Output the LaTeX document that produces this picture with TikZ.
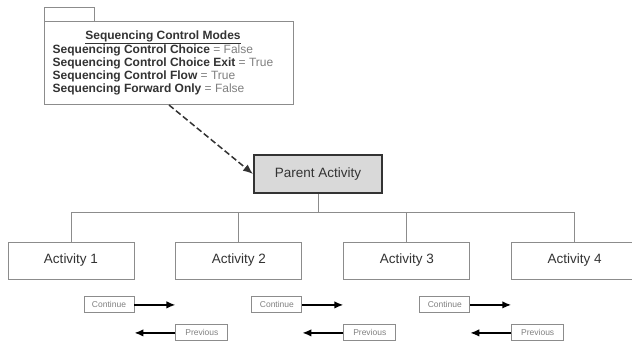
\documentclass[tikz,border=0pt]{standalone}
\usepackage{fontspec}
\setmainfont{Liberation Sans}
\usepackage{tikz}
\usetikzlibrary{arrows.meta,positioning}
\definecolor{seqgray}{HTML}{8C8C8C}
\definecolor{seqdark}{HTML}{333333}
\definecolor{seqfill}{HTML}{D9D9D9}
\definecolor{seqvalue}{HTML}{808080}
\tikzstyle{arrow} = [-{Latex[length=9pt,width=7.5pt]}, line width=1.6pt, black]
\newcommand{\seqval}[1]{\textcolor{seqvalue}{#1}}

\begin{document}
\begin{tikzpicture}[x=1pt, y=-1pt, node distance=41pt,
  actbox/.style={rectangle, draw=seqgray, line width=0.9pt, fill=white, minimum width=126pt, minimum height=37pt, font=\fontsize{13.5}{15}\selectfont, text=seqdark},
  parentbox/.style={rectangle, draw=seqdark, line width=2pt, fill=seqfill, minimum width=128pt, minimum height=38pt, font=\fontsize{13.5}{15}\selectfont, text=seqdark},
  notebox/.style={rectangle, draw=seqgray, line width=1pt, fill=white, minimum width=249pt, minimum height=83pt, inner sep=0pt, font=\fontsize{12}{13}\selectfont, text=seqdark},
  navbox/.style={rectangle, draw=seqgray, line width=0.9pt, minimum height=16pt, inner sep=0pt, font=\fontsize{8.5}{10}\selectfont, text=seqvalue},
  conn/.style={draw=seqgray, line width=0.9pt}]

\useasboundingbox (0,0) rectangle (632,341);

% sequencing control modes (note)
\node[notebox, anchor=north west] (modes) at (44,21) {\begin{tabular}{@{}l@{\hspace{12pt}}}
\multicolumn{1}{@{}c@{\hspace{12pt}}}{\underline{\textbf{Sequencing Control Modes}}}\\[1pt]
\textbf{Sequencing Control Choice} \seqval{= False}\\
\textbf{Sequencing Control Choice Exit} \seqval{= True}\\
\textbf{Sequencing Control Flow} \seqval{= True}\\
\textbf{Sequencing Forward Only} \seqval{= False}
\end{tabular}};
\draw[draw=seqgray, line width=1pt] (modes.north west) rectangle ++(50,-14);

% activity tree
\node[parentbox] (parent) at (318,174) {Parent Activity};
\node[actbox] (act1) at (71,260.5) {Activity 1};
\node[actbox, right=of act1] (act2) {Activity 2};
\node[actbox, right=of act2] (act3) {Activity 3};
\node[actbox, right=of act3] (act4) {Activity 4};

\draw[conn] (parent.south) -- ++(0,18) -| (act1.north);
\draw[conn] (parent.south) -- ++(0,18) -| (act2.north);
\draw[conn] (parent.south) -- ++(0,18) -| (act3.north);
\draw[conn] (parent.south) -- ++(0,18) -| (act4.north);

\draw[-{Latex[length=10pt,width=8pt]}, line width=1.5pt, seqdark, dash pattern=on 6pt off 3pt] (modes.south) -- (parent.west);

% navigation requests
\node[navbox, minimum width=50pt, below left=17pt and 0pt of act1.south east] (cont1) {Continue};
\node[navbox, minimum width=50pt, below left=17pt and 0pt of act2.south east] (cont2) {Continue};
\node[navbox, minimum width=50pt, below left=17pt and 0pt of act3.south east] (cont3) {Continue};
\node[navbox, minimum width=52pt, below right=45pt and 0pt of act2.south west] (prev1) {Previous};
\node[navbox, minimum width=52pt, below right=45pt and 0pt of act3.south west] (prev2) {Previous};
\node[navbox, minimum width=52pt, below right=45pt and 0pt of act4.south west] (prev3) {Previous};

\draw[arrow] (cont1) -- (cont1 -| act2.west);
\draw[arrow] (cont2) -- (cont2 -| act3.west);
\draw[arrow] (cont3) -- (cont3 -| act4.west);
\draw[arrow] (prev1) -- (prev1 -| act1.east);
\draw[arrow] (prev2) -- (prev2 -| act2.east);
\draw[arrow] (prev3) -- (prev3 -| act3.east);
\end{tikzpicture}
\end{document}
